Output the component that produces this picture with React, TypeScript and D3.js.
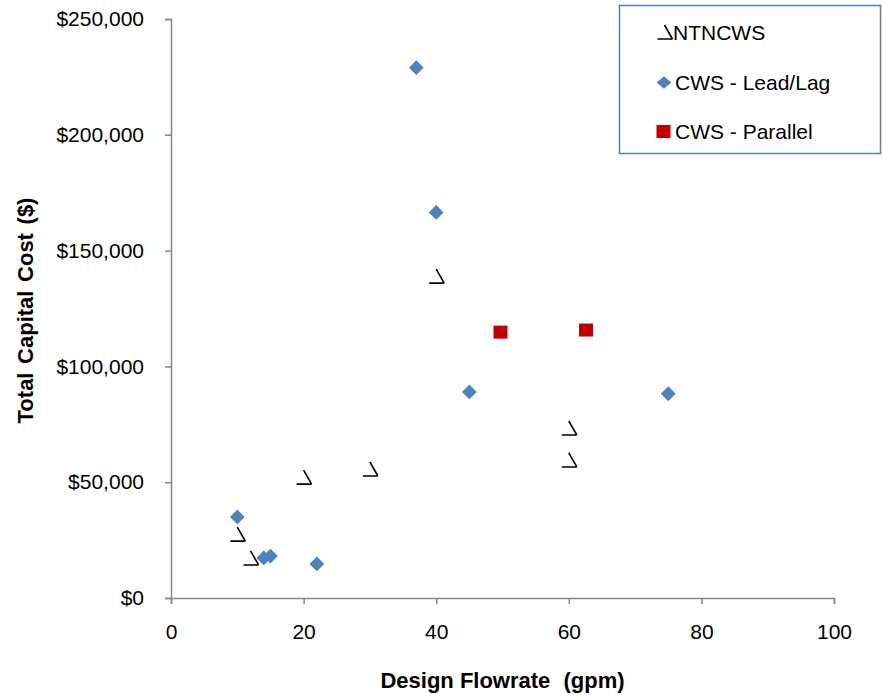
import React, { useEffect, useRef } from "react";
import * as d3 from "d3";

const ntncwsX = [10, 12, 20, 30, 40, 60, 60];
const ntncwsY = [27600, 17300, 52200, 55700, 139000, 73400, 59600];
const leadLagX = [37, 40, 45, 75, 10, 14, 15, 22];
const leadLagY = [229000, 166500, 89000, 88200, 35000, 17300, 18100, 14700];
const parallelX = [49.7, 62.6];
const parallelY = [114800, 115700];
const xTicks = [0, 20, 40, 60, 80, 100];
const yTicks = [0, 50000, 100000, 150000, 200000, 250000];
const legendLabels = ["NTNCWS", "CWS - Lead/Lag", "CWS - Parallel"];

const W = 883;
const H = 696;
const FONT = "'Liberation Sans', Arial, sans-serif";
const BLUE = "#4F81BD";
const RED = "#C00000";
const AXIS = "#868686";

const glyphPath = "M0,-7 L8,7 M-7,7 L8,7";
const diamondPath = "M0,-7.4 L7.4,0 L0,7.4 L-7.4,0 Z";

export default function App() {
  const ref = useRef<SVGSVGElement | null>(null);

  useEffect(() => {
    const svg = d3.select(ref.current);
    svg.selectAll("*").remove();

    const x = d3.scaleLinear().domain([0, 100]).range([171, 834]);
    const y = d3.scaleLinear().domain([0, 250000]).range([598, 19]);

    // Y axis
    const ya = svg
      .append("g")
      .attr("transform", `translate(${x(0)},0)`)
      .call(
        d3
          .axisLeft(y)
          .tickValues(yTicks)
          .tickSize(6)
          .tickPadding(21)
          .tickFormat((d: any) => "$" + d3.format(",")(d))
      );
    ya.select(".domain").attr("stroke", AXIS).attr("stroke-width", 1.5);
    ya.selectAll(".tick line").attr("stroke", AXIS).attr("stroke-width", 1.5);
    ya.selectAll(".tick text")
      .attr("font-family", FONT)
      .attr("font-size", 21)
      .attr("fill", "#000");

    // X axis
    const xa = svg
      .append("g")
      .attr("transform", `translate(0,${y(0)})`)
      .call(
        d3
          .axisBottom(x)
          .tickValues(xTicks)
          .tickSize(6)
          .tickPadding(20)
          .tickFormat((d: any) => String(d))
      );
    xa.select(".domain").attr("stroke", AXIS).attr("stroke-width", 1.5);
    xa.selectAll(".tick line").attr("stroke", AXIS).attr("stroke-width", 1.5);
    xa.selectAll(".tick text")
      .attr("font-family", FONT)
      .attr("font-size", 21)
      .attr("fill", "#000");

    // Axis titles
    const xt = svg
      .append("text")
      .attr("x", (x(0) + x(100)) / 2)
      .attr("y", 688)
      .attr("text-anchor", "middle")
      .attr("font-family", FONT)
      .attr("font-weight", "bold")
      .attr("font-size", 22);
    xt.append("tspan").text("Design Flowrate ");
    xt.append("tspan").attr("dx", 7).text("(gpm)");

    svg
      .append("text")
      .attr("transform", `translate(33,${(y(0) + y(250000)) / 2 + 2}) rotate(-90)`)
      .attr("text-anchor", "middle")
      .attr("font-family", FONT)
      .attr("font-weight", "bold")
      .attr("font-size", 22)
      .attr("word-spacing", 2.5)
      .text("Total Capital Cost ($)");

    // NTNCWS glyph markers
    const ntn = ntncwsX.map((v, i) => [v, ntncwsY[i]]);
    svg
      .append("g")
      .selectAll("path")
      .data(ntn)
      .join("path")
      .attr("transform", (d) => `translate(${x(d[0])},${y(d[1])})`)
      .attr("d", glyphPath)
      .attr("fill", "none")
      .attr("stroke", "#000")
      .attr("stroke-width", 1.6);

    // Lead/Lag diamonds
    const ll = leadLagX.map((v, i) => [v, leadLagY[i]]);
    svg
      .append("g")
      .selectAll("path")
      .data(ll)
      .join("path")
      .attr("transform", (d) => `translate(${x(d[0])},${y(d[1])})`)
      .attr("d", diamondPath)
      .attr("fill", BLUE);

    // Parallel squares
    const par = parallelX.map((v, i) => [v, parallelY[i]]);
    svg
      .append("g")
      .selectAll("rect")
      .data(par)
      .join("rect")
      .attr("x", (d) => x(d[0]) - 7)
      .attr("y", (d) => y(d[1]) - 6.5)
      .attr("width", 14)
      .attr("height", 13)
      .attr("fill", RED);

    // Legend
    const lg = svg.append("g");
    lg.append("rect")
      .attr("x", 619.5)
      .attr("y", 5.5)
      .attr("width", 261)
      .attr("height", 148)
      .attr("fill", "#fff")
      .attr("stroke", BLUE)
      .attr("stroke-width", 1.5);

    const rowY = [32, 82, 131];
    lg.append("path")
      .attr("transform", `translate(664.5,${rowY[0]})`)
      .attr("d", glyphPath)
      .attr("fill", "none")
      .attr("stroke", "#000")
      .attr("stroke-width", 1.6);
    lg.append("path")
      .attr("transform", `translate(664,${rowY[1] + 0.5}) scale(1,0.85)`)
      .attr("d", diamondPath)
      .attr("fill", BLUE);
    lg.append("rect")
      .attr("x", 656.5)
      .attr("y", rowY[2] - 6)
      .attr("width", 14)
      .attr("height", 13)
      .attr("fill", RED);

    lg.selectAll("text.lbl")
      .data(legendLabels)
      .join("text")
      .attr("class", "lbl")
      .attr("x", (d, i) => (i === 0 ? 673 : 675))
      .attr("y", (d, i) => rowY[i] + 7.5)
      .attr("font-family", FONT)
      .attr("font-size", 21)
      .attr("fill", "#000")
      .text((d) => d);
  }, []);

  return (
    <svg
      ref={ref}
      width={W}
      height={H}
      style={{ position: "absolute", left: 0, top: 0, background: "#fff" }}
    />
  );
}
